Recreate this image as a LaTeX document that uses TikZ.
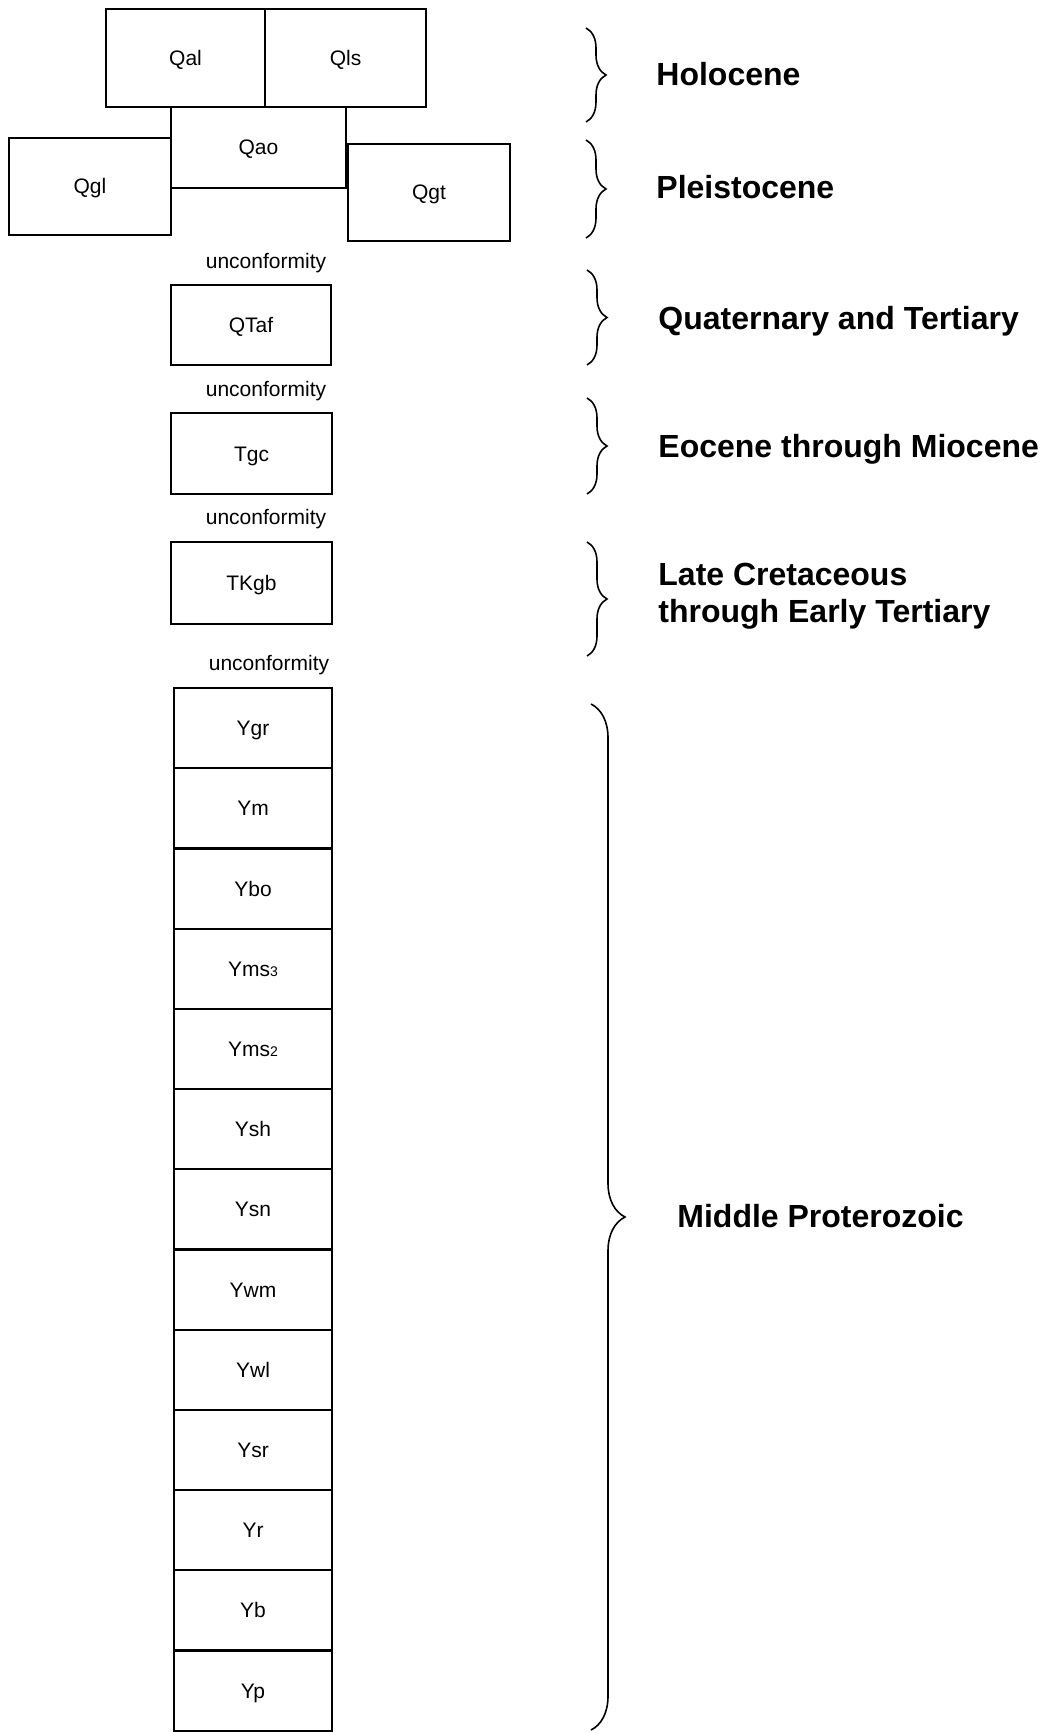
\documentclass[tikz,border=0pt]{standalone}
\usepackage{fontspec}
\setmainfont{Liberation Sans}
\usepackage{tikz}
\usetikzlibrary{decorations.pathreplacing}

\begin{document}
\begin{tikzpicture}[
    x=0.5pt, y=-0.5pt,
    font=\fontsize{10.5}{12.6}\selectfont,
    unit/.style={draw, line width=1.1pt, inner sep=0pt, text height=7.5pt, text depth=0pt, minimum width=79pt, minimum height=40.1pt},
    qbox/.style={unit, minimum width=81pt, minimum height=48.5pt},
    gap/.style={inner sep=0pt, text height=7.5pt, text depth=0pt},
    era/.style={anchor=base west, align=left, inner sep=0pt, font=\fontsize{16}{18.5}\selectfont\bfseries},
    agebrace/.style={decorate, decoration={brace, amplitude=10pt}, line width=0.8pt}
]
\useasboundingbox (0,0) rectangle (1047,1733);

% Quaternary units
\node[qbox, minimum width=79.5pt, minimum height=49pt] (qal) at (185.5,58) {Qal};
\node[qbox, minimum width=80.5pt, minimum height=49pt] (qls) at (345.5,58) {Qls};
\node[qbox, minimum width=87.5pt, minimum height=40.5pt] (qao) at (258.5,147.5) {Qao};
\node[qbox] (qgl) at (90,186.5) {Qgl};
\node[qbox] (qgt) at (429,192.5) {Qgt};

\node[gap] (unc1) at (266,261) {unconformity};
\node[unit, minimum width=80pt, minimum height=40pt] (qtaf) at (251,325) {QTaf};
\node[gap] (unc2) at (266,389) {unconformity};
\node[unit, minimum width=80.5pt, minimum height=40.5pt] (tgc) at (251.5,453.5) {Tgc};
\node[gap] (unc3) at (266,517) {unconformity};
\node[unit, minimum width=80.5pt, minimum height=41pt] (tkgb) at (251.5,583) {TKgb};
\node[gap] (unc4) at (269,663) {unconformity};

% Middle Proterozoic column
\node[unit] (ygr) at (253,728.1) {Ygr};
\node[unit] (ym) at (253,808.3) {Ym};
\node[unit] (ybo) at (253,888.5) {Ybo};
\node[unit] (yms3) at (253,968.7) {Yms{\scriptsize 3}};
\node[unit] (yms2) at (253,1048.9) {Yms{\scriptsize 2}};
\node[unit] (ysh) at (253,1129.1) {Ysh};
\node[unit] (ysn) at (253,1209.3) {Ysn};
\node[unit] (ywm) at (253,1289.5) {Ywm};
\node[unit] (ywl) at (253,1369.7) {Ywl};
\node[unit] (ysr) at (253,1449.9) {Ysr};
\node[unit] (yr) at (253,1530.1) {Yr};
\node[unit] (yb) at (253,1610.3) {Yb};
\node[unit] (yp) at (253,1690.5) {Yp};

% ages
\node[era] (holocene) at (656,86) {Holocene};
\node[era] (pleisto) at (656,199) {Pleistocene};
\node[era] (quatert) at (658,329) {Quaternary and Tertiary};
\node[era] (eocmio) at (658,457) {Eocene through Miocene};
\node[era] (latecret) at (658,622) {Late Cretaceous\\through Early Tertiary};
\node[era] (midprot) at (677,1227) {Middle Proterozoic};

\coordinate (holT) at (586,28);   \coordinate (holB) at (586,122);
\coordinate (pleT) at (586,140);  \coordinate (pleB) at (586,238);
\coordinate (qtT) at (587,270);   \coordinate (qtB) at (587,365);
\coordinate (eoT) at (587,398);   \coordinate (eoB) at (587,494);
\coordinate (lkT) at (587,542);   \coordinate (lkB) at (587,656);
\coordinate (ypT) at (591,704);   \coordinate (ypB) at (591,1730);

\draw[agebrace] (holT) -- (holB);
\draw[agebrace] (pleT) -- (pleB);
\draw[agebrace] (qtT) -- (qtB);
\draw[agebrace] (eoT) -- (eoB);
\draw[agebrace] (lkT) -- (lkB);
\draw[agebrace, decoration={amplitude=17pt}] (ypT) -- (ypB);

\end{tikzpicture}
\end{document}
